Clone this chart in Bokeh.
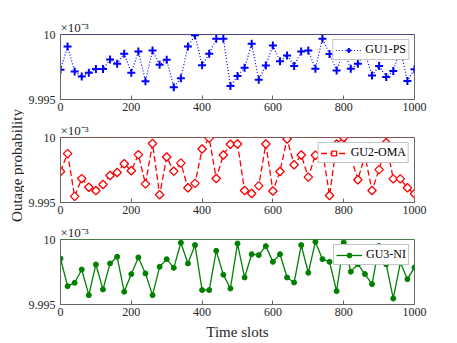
import math
from bokeh.plotting import figure
from bokeh.models import Range1d, FixedTicker, Span, CustomJSTickFormatter, Label
from bokeh.layouts import column, row
from bokeh.embed import file_html
from bokeh.resources import INLINE

# ---------------- data (units of 1e-3) ----------------
time_slots = list(range(0, 1001, 20))
x_ticks = [0, 200, 400, 600, 800, 1000]
y_ticks = [9.995, 10.0]
upper_bound = 10.0

gu1_ps = [9.99728, 9.99908, 9.99716, 9.99677, 9.99705, 9.99734, 9.99734, 9.99808, 9.99775, 9.99852,
          9.99705, 9.99869, 9.99641, 9.99877, 9.99767, 9.99805, 9.99595, 9.99664, 9.99908, 9.99995,
          9.99764, 9.99852, 9.99967, 9.99967, 9.99603, 9.99680, 9.99744, 9.99928, 9.99652, 9.99762,
          9.99916, 9.99795, 9.99839, 9.99757, 9.99869, 9.99877, 9.99736, 9.99967, 9.99850, 9.99723,
          9.99875, 9.99736, 9.99775, 9.99860, 9.99685, 9.99758, 9.99673, 9.99720, 9.99890, 9.99643,
          9.99733]

gu2_oma = [9.99739, 9.99876, 9.99547, 9.99684, 9.99617, 9.99591, 9.99638, 9.99708, 9.99731, 9.99798,
           9.99744, 9.99868, 9.99643, 9.99954, 9.99560, 9.99850, 9.99741, 9.99803, 9.99613, 9.99647,
           9.99911, 9.99995, 9.99685, 9.99865, 9.99948, 9.99950, 9.99592, 9.99569, 9.99628, 9.99950,
           9.99589, 9.99739, 9.99988, 9.99790, 9.99865, 9.99695, 9.99864, 9.99900, 9.99554, 9.99950,
           10.00000, 9.99850, 9.99675, 9.99860, 9.99592, 9.99753, 9.99960, 9.99682, 9.99682, 9.99613,
           9.99567]

gu3_ni = [9.99854, 9.99641, 9.99667, 9.99769, 9.99572, 9.99808, 9.99616, 9.99816, 9.99867, 9.99598,
          9.99734, 9.99862, 9.99739, 9.99572, 9.99790, 9.99849, 9.99782, 9.99975, 9.99816, 9.99957,
          9.99611, 9.99611, 9.99913, 9.99729, 9.99623, 9.99969, 9.99708, 9.99887, 9.99880, 9.99949,
          9.99828, 9.99887, 9.99708, 9.99669, 9.99957, 9.99744, 9.99982, 9.99849, 9.99828, 9.99603,
          9.99977, 9.99752, 9.99811, 9.99734, 9.99657, 9.99950, 9.99810, 9.99546, 9.99823, 9.99695,
          9.99785]

FONT = "Liberation Serif"
AXIS_COL = "#666666"
TEXT_COL = "#262626"
LABEL_W = 24


def make_fig(height, top, bottom):
    p = figure(width=441 - LABEL_W, height=height, output_backend="svg",
               toolbar_location=None,
               title="×10⁻³", x_range=Range1d(0, 1000), y_range=Range1d(9.995, 10.0),
               min_border_left=60 - LABEL_W, min_border_right=27, min_border_top=top,
               min_border_bottom=bottom, background_fill_color="white",
               border_fill_color="white")
    p.title.align = "left"
    p.title.text_font = FONT
    p.title.text_font_size = "13px"
    p.title.text_font_style = "normal"
    p.title.text_color = TEXT_COL
    p.title.standoff = 0
    p.title.offset = 0
    p.xgrid.visible = False
    p.ygrid.visible = False
    p.outline_line_color = AXIS_COL
    p.outline_line_width = 1
    p.xaxis.ticker = FixedTicker(ticks=x_ticks)
    p.yaxis.ticker = FixedTicker(ticks=y_ticks)
    p.yaxis.formatter = CustomJSTickFormatter(
        code="return tick > 9.9999 ? '10' : tick.toFixed(3);")
    for ax in (p.xaxis, p.yaxis):
        ax.major_tick_in = 4
        ax.major_tick_out = 0
        ax.minor_tick_line_color = None
        ax.axis_line_color = AXIS_COL
        ax.major_tick_line_color = AXIS_COL
        ax.major_label_text_font = FONT
        ax.major_label_text_font_size = "12px"
        ax.major_label_text_color = TEXT_COL
        ax.axis_label_text_font = FONT
        ax.axis_label_text_font_size = "15px"
        ax.axis_label_text_font_style = "normal"
        ax.axis_label_text_color = TEXT_COL
    p.xaxis.major_label_standoff = 3
    p.yaxis.major_label_standoff = 5
    return p


def style_legend(p):
    lg = p.legend[0]
    lg.location = "top_right"
    lg.margin = 5
    lg.padding = 2
    lg.spacing = 0
    lg.glyph_width = 26
    lg.glyph_height = 12
    lg.label_height = 12
    lg.label_standoff = 4
    lg.label_text_font = FONT
    lg.label_text_font_size = "12px"
    lg.label_text_color = "black"
    lg.border_line_color = "#8a8a8a"
    lg.border_line_width = 1
    lg.background_fill_color = "white"
    lg.background_fill_alpha = 1.0


# ---- subplot 1 ----
p1 = make_fig(117, 34, 18)
p1.add_layout(Span(location=upper_bound, dimension="width", line_color="#0000ff",
                   line_alpha=0.6, line_width=1))
p1.line(time_slots, gu1_ps, line_color="#0000ff", line_width=1.2, line_dash="1 2",
        legend_label="GU1-PS")
p1.scatter(time_slots, gu1_ps, marker="cross", size=8, line_width=2,
           line_color="#0000ff", legend_label="GU1-PS")
style_legend(p1)

# ---- subplot 2 ----
p2 = make_fig(103, 20, 18)
p2.add_layout(Span(location=upper_bound, dimension="width", line_color="#ff0000",
                   line_alpha=0.6, line_width=1, line_dash="6 3"))
p2.line(time_slots, gu2_oma, line_color="#ff0000", line_width=1.3, line_dash="6 3",
        legend_label="GU2-OMA")
p2.scatter(time_slots, gu2_oma, marker="square", angle=math.pi / 4, size=6,
           line_width=1.3, line_color="#ff0000", fill_color="white",
           legend_label="GU2-OMA")
style_legend(p2)

# ---- subplot 3 ----
p3 = make_fig(122, 19, 38)
p3.add_layout(Span(location=upper_bound, dimension="width", line_color="#00c000",
                   line_alpha=0.55, line_width=1))
p3.line(time_slots, gu3_ni, line_color="#008000", line_width=1.3,
        legend_label="GU3-NI")
p3.scatter(time_slots, gu3_ni, marker="circle", size=5, line_color="#008000",
           fill_color="#008000", legend_label="GU3-NI")
style_legend(p3)
p3.xaxis.axis_label = "Time slots"
p3.xaxis.axis_label_standoff = 5

# ---- shared y-axis label strip ----
lab = figure(width=LABEL_W, height=342, output_backend="svg", toolbar_location=None,
             title=None, x_range=Range1d(0, 1), y_range=Range1d(0, 1),
             min_border=0, min_border_left=0, min_border_right=0,
             min_border_top=0, min_border_bottom=0)
lab.axis.visible = False
lab.grid.visible = False
lab.outline_line_color = None
lab.add_layout(Label(x=16, y=342 - 165, x_units="screen", y_units="screen",
                     text="Outage probability", angle=math.pi / 2,
                     text_align="center", text_baseline="middle",
                     text_font=FONT, text_font_size="15px", text_color=TEXT_COL))

layout = row(lab, column(p1, p2, p3, spacing=0), spacing=0)
open("out.html", "w").write(file_html(layout, INLINE))
